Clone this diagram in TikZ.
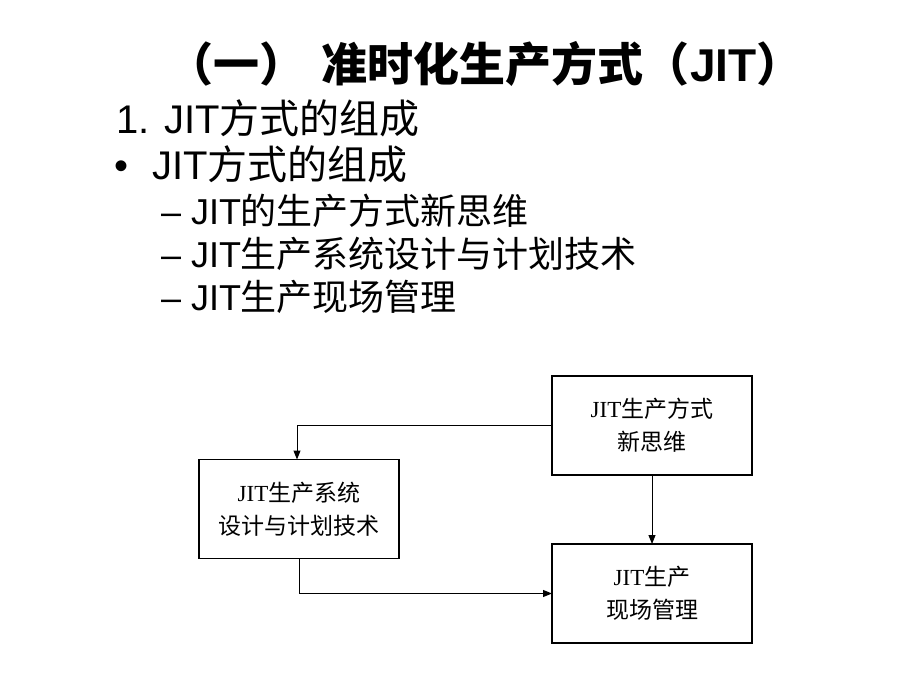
\documentclass[tikz,border=0pt]{standalone}
\usepackage{fontspec}
\newfontfamily\latsans{Liberation Sans}
\newfontfamily\latserif{Liberation Serif}
\newfontfamily\zhsans{Noto Sans CJK SC}
\usetikzlibrary{arrows.meta}
\begin{document}
\begin{tikzpicture}[x=1pt,y=-1pt,
  txt/.style={anchor=base west, inner sep=0pt, outer sep=0pt},
  lvlone/.style={txt, font=\fontsize{40}{48}\selectfont},
  lvltwo/.style={txt, font=\fontsize{36}{43}\selectfont},
  boxnode/.style={draw, line width=1.2pt, minimum width=200pt, minimum height=99pt,
    align=center, inner sep=0pt, outer sep=0pt, font=\fontsize{23}{33}\selectfont},
  conn/.style={line width=1pt, -{Triangle[length=9pt,width=7pt]}}]
\useasboundingbox (0,0) rectangle (920,690);
% title
\node[txt, font=\fontsize{46}{55}\selectfont\bfseries] (title) at (167,82)
  {\zhsans （一）\hspace{17pt}准时化生产方式（{\latsans\bfseries JIT}）};
% level one
\node[lvlone] (l1) at (116,133) {{\latsans 1. JIT}{\zhsans 方式的组成}};
\node[lvlone] (b1) at (114,179) {\latsans •};
\node[lvlone] (l2) at (152,179) {{\latsans JIT}{\zhsans 方式的组成}};
% level two
\node[lvltwo] (d1) at (161,224) {\latsans –};
\node[lvltwo] (s1) at (191,224) {{\latsans JIT}{\zhsans 的生产方式新思维}};
\node[lvltwo] (d2) at (161,267) {\latsans –};
\node[lvltwo] (s2) at (191,267) {{\latsans JIT}{\zhsans 生产系统设计与计划技术}};
\node[lvltwo] (d3) at (161,310) {\latsans –};
\node[lvltwo] (s3) at (191,310) {{\latsans JIT}{\zhsans 生产现场管理}};
% boxes
\node[boxnode] (A) at (652,425.5) {{\latserif JIT}{\zhsans 生产方式}\\{\zhsans 新思维}};
\node[boxnode] (B) at (299,509) {{\latserif JIT}{\zhsans 生产系统}\\{\zhsans 设计与计划技术}};
\node[boxnode] (C) at (652,593.5) {{\latserif JIT}{\zhsans 生产}\\{\zhsans 现场管理}};
% connectors
\draw[conn] (A.west) -| ([xshift=-2pt]B.north);
\draw[conn] (A.south) -- (C.north);
\draw[conn] (B.south) |- (C.west);
\end{tikzpicture}
\end{document}
